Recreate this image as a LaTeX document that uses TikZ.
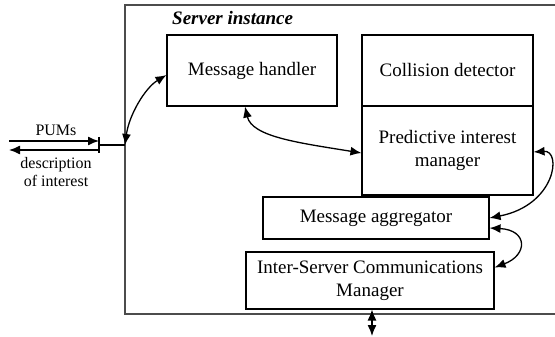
\documentclass[tikz,border=0pt]{standalone}
\usepackage{fontspec}
\setmainfont{Liberation Serif}
\usepackage{tikz}
\usetikzlibrary{arrows.meta,calc}

\tikzset{
  box/.style={draw=black,line width=1.1pt,inner sep=0pt,align=center,
    font=\fontsize{19}{23}\selectfont},
  dbl/.style={draw=black,line width=1.3pt,
    {Latex[length=11pt,width=9pt]}-{Latex[length=11pt,width=9pt]}},
  sgl/.style={draw=black,line width=1.3pt,-{Latex[length=11pt,width=9pt]}},
  lbl/.style={inner sep=0pt,align=center,font=\fontsize{16}{18}\selectfont}
}

\begin{document}
\begin{tikzpicture}[y=-1pt, x=1pt]
\useasboundingbox (0,0) rectangle (555,337);
  \path[draw=black!70,line width=1.2pt] (556,5) -- (125,5) -- (125,314) -- (556,314);
  \node[anchor=west,inner sep=0pt,font=\fontsize{19}{23}\selectfont\bfseries\itshape]
    (title) at (172,18) {Server instance};

  \node[box,minimum width=170pt,minimum height=71pt] (mh) at (252,70.5)
    {Message handler};
  \node[box,minimum width=171pt,minimum height=71pt] (cd) at (447.5,70.5)
    {Collision detector};
  \node[box,minimum width=171pt,minimum height=89pt] (pim) at (447.5,150.5)
    {Predictive interest\\manager};
  \node[box,minimum width=226pt,minimum height=42pt] (ma) at (376,218)
    {Message aggregator};
  \node[box,minimum width=248pt,minimum height=57pt] (icm) at (370,280.5)
    {Inter-Server Communications\\Manager};

  \coordinate (port) at (125,145);
  \coordinate (tick) at (99,145);
  \coordinate (tickT) at (99,137);
  \coordinate (tickB) at (99,153);
  \coordinate (pumsL) at (9,141);
  \coordinate (descL) at (9,150);
  \coordinate (ext) at (372,336);

  \path[draw=black,line width=1.1pt] (tickT) -- (tickB);
  \path[draw=black,line width=1.1pt] (tick) -- (port);
  \path[sgl] (pumsL) -- (pumsL -| tick);
  \path[sgl] (descL -| tick) -- (descL);
  \node[lbl] (pums) at (56,130) {PUMs};
  \node[lbl] (desc) at (56,172) {description\\of interest};

  \path[dbl] (port) .. controls (129,115) and (145,88) .. ($(mh.west)+(0,4.5)$);
  \path[dbl] ($(mh.south)+(-7,0)$) .. controls (252,137) and (300,143) ..
    ($(pim.west)+(0,2.5)$);
  \path[dbl] ($(pim.east)+(0,1.5)$) .. controls (562,150) and (556,205) ..
    (ma.east);
  \path[dbl] ($(ma.east)+(0,10)$) .. controls (528,230) and (528,255) ..
    ($(icm.east)+(0,-13)$);
  \path[dbl] ($(icm.south)+(2,0)$) -- (ext);
\end{tikzpicture}
\end{document}
